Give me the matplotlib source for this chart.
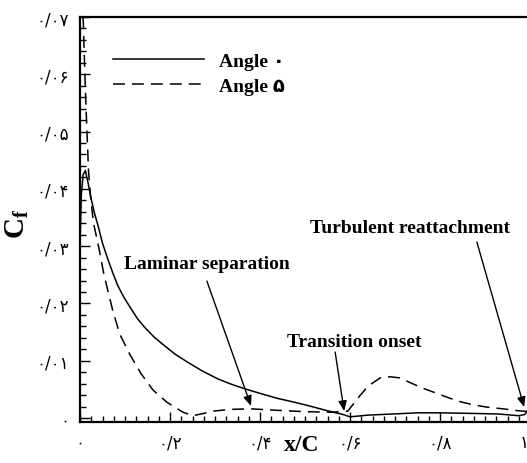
import matplotlib
matplotlib.use("Agg")
import matplotlib.pyplot as plt
from matplotlib.font_manager import FontProperties
from matplotlib.ticker import MultipleLocator, FixedLocator, FixedFormatter
from matplotlib.transforms import ScaledTranslation

plt.rcParams['mathtext.fontset'] = 'custom'
plt.rcParams['mathtext.rm'] = 'Liberation Serif'
plt.rcParams['mathtext.bf'] = 'Liberation Serif:bold'
plt.rcParams['mathtext.it'] = 'Liberation Serif:italic'

# ---- data ----
x_angle0 = [0.0, 0.003, 0.007, 0.012, 0.018, 0.025, 0.032, 0.040, 0.050, 0.062, 0.073,
            0.084, 0.098, 0.114, 0.128, 0.144, 0.165, 0.188, 0.212, 0.240, 0.272,
            0.307, 0.336, 0.366, 0.400, 0.440, 0.474, 0.510, 0.548, 0.585, 0.600,
            0.640, 0.696, 0.750, 0.800, 0.870, 0.930, 0.975, 0.988, 1.0]
cf_angle0 = [0.030, 0.039, 0.0425, 0.0432, 0.0410, 0.0382, 0.0358, 0.0336, 0.0305, 0.0277, 0.0253,
             0.0231, 0.0210, 0.0190, 0.0173, 0.0158, 0.0141, 0.0126, 0.0111, 0.0097, 0.0082,
             0.0068, 0.0059, 0.0051, 0.0043, 0.0034, 0.0028, 0.0021, 0.0013, 0.0006, 0.0002,
             0.0005, 0.0007, 0.0009, 0.0009, 0.0008, 0.0007, 0.0004, 0.0006, 0.0018]

x_angle5 = [0.007, 0.010, 0.013, 0.016, 0.019, 0.023, 0.030, 0.037, 0.044, 0.052, 0.061,
            0.073, 0.088, 0.110, 0.136, 0.162, 0.194, 0.229, 0.251, 0.275, 0.296,
            0.333, 0.380, 0.424, 0.500, 0.560, 0.595, 0.622, 0.641, 0.667, 0.689,
            0.711, 0.733, 0.762, 0.793, 0.820, 0.847, 0.874, 0.904, 0.940, 0.970, 1.0]
cf_angle5 = [0.0700, 0.0620, 0.0550, 0.0490, 0.0430, 0.0390, 0.0340, 0.0315, 0.0289, 0.0255, 0.0225,
             0.0187, 0.0147, 0.0112, 0.0077, 0.0049, 0.0027, 0.0010, 0.0004, 0.0008, 0.0012,
             0.0015, 0.0016, 0.0014, 0.0011, 0.0010, 0.0012, 0.0039, 0.0056, 0.0070, 0.0072,
             0.0070, 0.0062, 0.0052, 0.0043, 0.0035, 0.0028, 0.0023, 0.0019, 0.0016, 0.0013, 0.0011]

legend_labels = ["Angle \u06f0", "Angle \u06f5"]

x_ticks = [0.0, 0.2, 0.4, 0.6, 0.8, 1.0]
x_ticklabels = ["\u06f0", "\u06f0/\u06f2", "\u06f0/\u06f4", "\u06f0/\u06f6", "\u06f0/\u06f8", "\u06f1"]
y_ticks = [0.0, 0.01, 0.02, 0.03, 0.04, 0.05, 0.06, 0.07]
y_ticklabels = ["\u06f0", "\u06f0/\u06f0\u06f1", "\u06f0/\u06f0\u06f2", "\u06f0/\u06f0\u06f3",
                "\u06f0/\u06f0\u06f4", "\u06f0/\u06f0\u06f5", "\u06f0/\u06f0\u06f6", "\u06f0/\u06f0\u06f7"]

annotations = [
    ("Laminar separation", (0.282, 0.0269), (0.282, 0.0239), (0.380, 0.0021)),
    ("Transition onset", (0.609, 0.0134), (0.567, 0.0115), (0.587, 0.0012)),
    ("Turbulent reattachment", (0.733, 0.0332), (0.882, 0.0307), (0.987, 0.0019)),
]

# ---- figure ----
W, H = 527, 464
fig = plt.figure(figsize=(W / 100, H / 100), dpi=100)
ax = fig.add_axes([80 / W, (H - 423) / H, 450 / W, (423 - 18) / H])

ax.plot(x_angle0, cf_angle0, color='black', lw=1.1, label=legend_labels[0])
ax.plot(x_angle5, cf_angle5, color='black', lw=1.1, dashes=(7.8, 4.6), label=legend_labels[1])

ax.set_xlim(0, 1.0)
ax.set_ylim(-0.0007, 0.07)

ax.xaxis.set_major_locator(FixedLocator(x_ticks))
ax.xaxis.set_major_formatter(FixedFormatter(x_ticklabels))
ax.xaxis.set_minor_locator(MultipleLocator(0.025))
ax.yaxis.set_major_locator(FixedLocator(y_ticks))
ax.yaxis.set_major_formatter(FixedFormatter(y_ticklabels))
ax.yaxis.set_minor_locator(MultipleLocator(0.002))

ax.tick_params(which='both', direction='in', colors='black', width=1.0)
ax.tick_params(which='major', length=7)
ax.tick_params(which='minor', length=4)
ax.tick_params(axis='x', pad=8)
ax.tick_params(axis='y', pad=8)
for lab in ax.get_xticklabels() + ax.get_yticklabels():
    lab.set_fontfamily(['DejaVu Sans'])
    lab.set_fontsize(12)

for s in ['left', 'bottom', 'top']:
    ax.spines[s].set_linewidth(1.6)
ax.spines['right'].set_visible(False)

serif_bold = dict(family=['Liberation Serif', 'DejaVu Sans'], weight='bold')

fig.text(17 / W, 1 - 224 / H, r"$\mathbf{C_f}$", rotation=90, fontsize=21,
         ha='center', va='center')
fig.text(302 / W, 1 - 446 / H, "x/C", fontsize=17, ha='center', va='center', **serif_bold)

leg = ax.legend(loc='upper left', bbox_to_anchor=(113 / W, 1 - 53 / H),
                bbox_transform=fig.transFigure, frameon=False,
                prop=FontProperties(family=['Liberation Serif', 'DejaVu Sans'], weight='bold', size=14),
                handlelength=4.7, handletextpad=0.77, labelspacing=0.38,
                borderpad=0, borderaxespad=0)

for text, tpos, start, tip in annotations:
    ax.text(tpos[0], tpos[1], text, fontsize=14, ha='center', va='center', **serif_bold)
    ax.annotate('', xy=tip, xytext=start,
                arrowprops=dict(arrowstyle='-|>,head_length=0.6,head_width=0.25',
                                color='black', lw=1.0, shrinkA=0, shrinkB=0))

fig.canvas.draw()
last = ax.get_xticklabels()[-1]
last.set_transform(last.get_transform() + ScaledTranslation(-6 / 100, 0, fig.dpi_scale_trans))

fig.savefig('out.png', dpi=100)
